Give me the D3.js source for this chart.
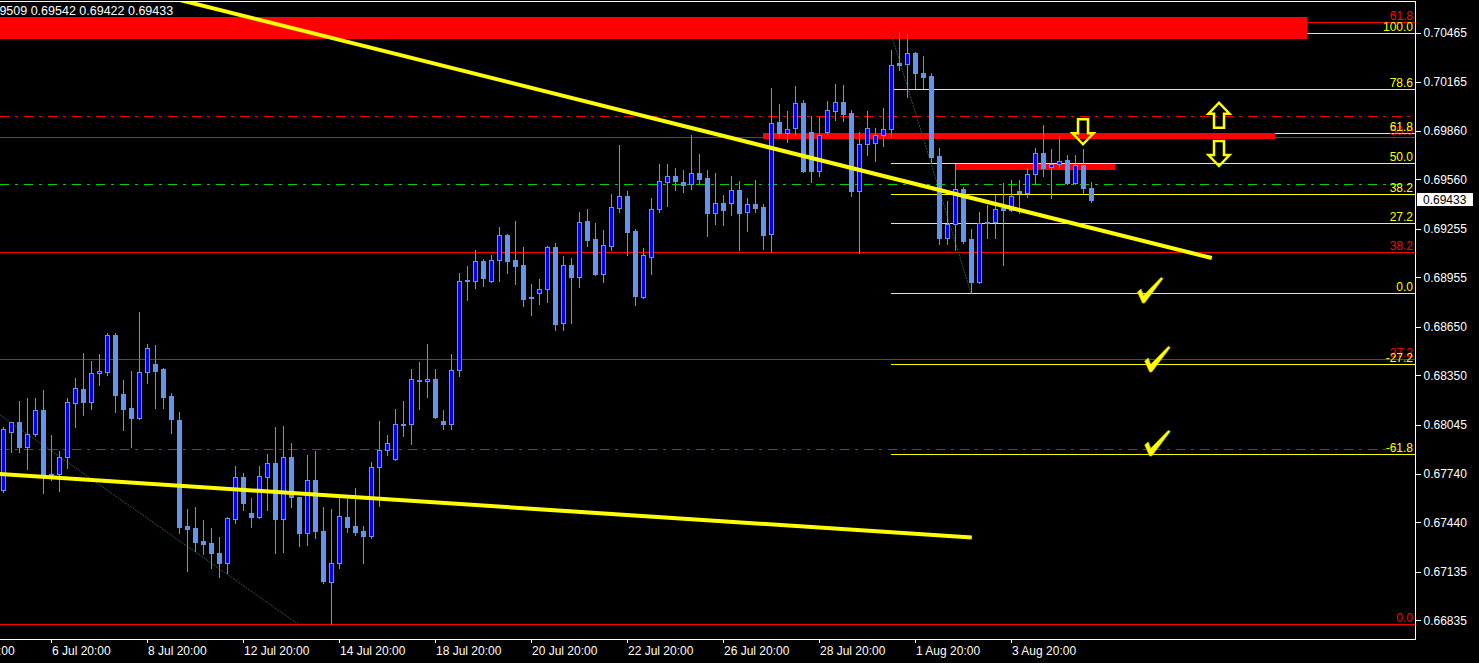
<!DOCTYPE html>
<html><head><meta charset="utf-8">
<script src="https://cdn.jsdelivr.net/npm/d3@7/dist/d3.min.js"></script>
<style>
html,body{margin:0;padding:0;background:#000;overflow:hidden}
svg{display:block}
text{font-family:"Liberation Sans",Arial,sans-serif}
</style></head><body>
<svg id="chart" width="1479" height="663"></svg>
<script>
// ---- OHLC data (H4 bars, index 0 = 6 Jul 00:00) ----
const opens = [0.67640,0.67997,0.68061,0.67908,0.67985,0.68135,0.67739,0.67741,0.67842,0.68180,
0.68265,0.68186,0.68362,0.68372,0.68598,0.68234,0.68149,0.68087,0.68368,0.68419,
0.68388,0.68221,0.68073,0.67418,0.67405,0.67325,0.67313,0.67251,0.67187,0.67459,
0.67719,0.67496,0.67475,0.67723,0.67807,0.67459,0.67844,0.67599,0.67373,0.67702,
0.67387,0.67074,0.67187,0.67473,0.67418,0.67387,0.67358,0.67781,0.67886,0.67830,
0.68046,0.68046,0.68320,0.68312,0.68325,0.68067,0.68046,0.68380,0.68938,0.68934,
0.69056,0.68934,0.69060,0.69215,0.69062,0.69031,0.68831,0.68856,0.68881,0.69140,
0.68674,0.69029,0.68959,0.69303,0.69192,0.68977,0.69150,0.69385,0.69456,0.69241,
0.68835,0.69082,0.69375,0.69546,0.69579,0.69544,0.69530,0.69598,0.69569,0.69354,
0.69416,0.69412,0.69493,0.69357,0.69408,0.69390,0.69221,0.69915,0.69845,0.69876,
0.70031,0.69851,0.69614,0.69855,0.69985,0.70037,0.69971,0.69490,0.69777,0.69783,
0.69833,0.69870,0.70278,0.70272,0.70340,0.70216,0.70199,0.69705,0.69200,0.69283,
0.69499,0.69192,0.68928,0.69295,0.69297,0.69382,0.69371,0.69488,0.69478,0.69592,
0.69722,0.69635,0.69655,0.69680,0.69540,0.69647,0.69509];
const highs = [0.68032,0.68063,0.68190,0.68209,0.68209,0.68258,0.67980,0.67881,0.68209,0.68333,
0.68487,0.68438,0.68481,0.68609,0.68609,0.68320,0.68376,0.68739,0.68543,0.68537,
0.68393,0.68238,0.68122,0.67523,0.67535,0.67455,0.67405,0.67350,0.67473,0.67789,
0.67747,0.67591,0.67791,0.67863,0.68032,0.68036,0.67929,0.67599,0.67857,0.67881,
0.67535,0.67523,0.67599,0.67585,0.67655,0.67420,0.67812,0.68067,0.67980,0.68141,
0.68190,0.68388,0.68432,0.68543,0.68388,0.68135,0.68481,0.68980,0.69025,0.69124,
0.69066,0.69093,0.69266,0.69223,0.69303,0.69142,0.68914,0.68945,0.69149,0.69167,
0.69087,0.69074,0.69359,0.69377,0.69291,0.69247,0.69470,0.69773,0.69488,0.69254,
0.69136,0.69443,0.69655,0.69655,0.69631,0.69618,0.69835,0.69717,0.69618,0.69600,
0.69462,0.69579,0.69550,0.69445,0.69556,0.69408,0.70125,0.70026,0.69981,0.70137,
0.70051,0.69952,0.69948,0.70045,0.70150,0.70144,0.69989,0.69855,0.69983,0.69880,
0.70000,0.70360,0.70469,0.70459,0.70348,0.70323,0.70216,0.69754,0.69427,0.69655,
0.69515,0.69254,0.69359,0.69402,0.69462,0.69536,0.69556,0.69556,0.69631,0.69754,
0.69895,0.69748,0.69828,0.69711,0.69711,0.69748,0.69542];
const lows = [0.67628,0.67877,0.67877,0.67772,0.67974,0.67620,0.67700,0.67634,0.67778,0.68032,
0.68104,0.68141,0.68289,0.68351,0.68124,0.68011,0.67908,0.68079,0.68304,0.68149,
0.68149,0.67991,0.67373,0.67142,0.67265,0.67245,0.67156,0.67104,0.67129,0.67435,
0.67517,0.67414,0.67467,0.67517,0.67253,0.67259,0.67537,0.67294,0.67300,0.67346,
0.67067,0.66812,0.67156,0.67383,0.67364,0.67187,0.67346,0.67543,0.67859,0.67826,
0.67976,0.67927,0.68141,0.68213,0.68085,0.68017,0.68017,0.68347,0.68815,0.68891,
0.68901,0.68928,0.68932,0.68980,0.68914,0.68780,0.68722,0.68792,0.68804,0.68629,
0.68629,0.68674,0.68897,0.69149,0.68969,0.68926,0.69124,0.69359,0.69093,0.68786,
0.68829,0.68977,0.69357,0.69396,0.69495,0.69484,0.69501,0.69540,0.69212,0.69286,
0.69280,0.69342,0.69126,0.69243,0.69361,0.69132,0.69113,0.69820,0.69793,0.69835,
0.69606,0.69546,0.69583,0.69839,0.69927,0.69923,0.69458,0.69103,0.69711,0.69676,
0.69767,0.69824,0.70236,0.70071,0.70123,0.70123,0.69670,0.69159,0.69159,0.69124,
0.69169,0.68860,0.68922,0.69200,0.69200,0.69031,0.69365,0.69354,0.69453,0.69532,
0.69581,0.69447,0.69629,0.69532,0.69532,0.69478,0.69422];
const closes = [0.68016,0.68059,0.67908,0.67985,0.68135,0.67733,0.67729,0.67844,0.68184,0.68269,
0.68186,0.68362,0.68376,0.68598,0.68228,0.68141,0.68087,0.68368,0.68516,0.68378,
0.68217,0.68077,0.67414,0.67401,0.67321,0.67308,0.67249,0.67187,0.67465,0.67719,
0.67558,0.67475,0.67727,0.67807,0.67461,0.67844,0.67599,0.67376,0.67702,0.67389,
0.67078,0.67187,0.67480,0.67414,0.67383,0.67358,0.67781,0.67886,0.67929,0.68046,
0.68043,0.68325,0.68312,0.68325,0.68090,0.68046,0.68380,0.68932,0.68934,0.69056,
0.68953,0.69062,0.69215,0.69058,0.69027,0.68823,0.68827,0.68881,0.69140,0.68668,
0.69029,0.68959,0.69295,0.69187,0.68975,0.69153,0.69388,0.69456,0.69237,0.68841,
0.69091,0.69375,0.69548,0.69579,0.69552,0.69527,0.69598,0.69563,0.69354,0.69412,
0.69371,0.69493,0.69354,0.69406,0.69385,0.69218,0.69911,0.69845,0.69870,0.70031,
0.69614,0.69614,0.69833,0.69987,0.70037,0.69966,0.69490,0.69777,0.69876,0.69833,
0.69870,0.70265,0.70265,0.70340,0.70220,0.70195,0.69700,0.69200,0.69283,0.69499,
0.69179,0.68928,0.69289,0.69291,0.69375,0.69371,0.69456,0.69474,0.69594,0.69722,
0.69632,0.69655,0.69676,0.69538,0.69647,0.69509,0.69433];

// ---- axes ----
const timeTickIndex = [-6,6,18,30,42,54,66,78,90,102,114,126];
const timeTickLabels = ["4 Jul 20:00","6 Jul 20:00","8 Jul 20:00","12 Jul 20:00","14 Jul 20:00","18 Jul 20:00",
  "20 Jul 20:00","22 Jul 20:00","26 Jul 20:00","28 Jul 20:00","1 Aug 20:00","3 Aug 20:00"];
const priceTicks = [0.70465,0.70165,0.69860,0.69560,0.69255,0.68955,0.68650,0.68350,0.68045,0.67740,0.67440,0.67135,0.66835];
const headerText = "0.69509 0.69542 0.69422 0.69433";
const lastPrice = 0.69433;

// ---- objects ----
const yellowFibLow = 0.68856, yellowFibHigh = 0.70463, yellowFibStart = 111;
const yellowFibLevels = [100, 78.6, 61.8, 50, 38.2, 27.2, 0, -27.2, -61.8];
const redFibLow = 0.66811, redFibHigh = 0.72829;
const redFibLevels = [61.8, 50, 38.2, 27.2, 0];
const dashLinePrices = [0.69952, 0.67892];
const dashLineColors = ["#ff0000", "#ff0000"];
const greenDashPrice = 0.69530;
const zoneStart = [-1, 95, 119.1];
const zoneEnd = [163, 159, 139];
const zoneTop = [0.70564, 0.69850, 0.69658];
const zoneBottom = [0.70428, 0.69810, 0.69618];
const trendStartIdx = [20, -1];
const trendStartPrice = [0.70695, 0.67741];
const trendEndIdx = [151.1, 121.1];
const trendEndPrice = [0.69074, 0.67347];
const dotStartIdx = [-1, 111];
const dotStartPrice = [0.68126, 0.70463];
const dotEndIdx = [36.875, 121];
const dotEndPrice = [0.66812, 0.68856];
const arrowIdx = [135, 152, 152];
const arrowPrice = [0.69777, 0.70034, 0.69643];
const arrowDir = ["down", "up", "down"];
const checkIdx = [142.5, 143.4, 143.4];
const checkPrice = [0.68802, 0.68376, 0.67857];

const PR = 1415, PB = 639, PT = 1.5;
const svg = d3.select('#chart');
svg.append('rect').attr('width',1479).attr('height',663).attr('fill','#000');

const x = d3.scaleLinear().domain([0,136]).range([3,1091]);
const y = d3.scaleLinear().domain([0.66835,0.70465]).range([620.3,33]);

svg.append('defs').append('clipPath').attr('id','plot')
  .append('rect').attr('x',0).attr('y',2).attr('width',PR).attr('height',PB-2);
const plot = svg.append('g').attr('clip-path','url(#plot)');

const back = plot.append('g').attr('shape-rendering','crispEdges');
const ry = p => Math.round(y(p)) + 0.5;

// red fib (full width)
redFibLevels.forEach(l => {
  const p = redFibLow + (redFibHigh - redFibLow) * l / 100;
  back.append('line').attr('x1',0).attr('x2',PR).attr('y1',ry(p)).attr('y2',ry(p))
    .attr('stroke','#ff0000').attr('stroke-width',1);
});
// dash-dot lines
dashLinePrices.forEach((p,k) => {
  back.append('line').attr('x1',0).attr('x2',PR).attr('y1',ry(p)).attr('y2',ry(p))
    .attr('stroke',dashLineColors[k]).attr('stroke-dasharray','9,6,3,6');
});
back.append('line').attr('x1',0).attr('x2',PR).attr('y1',ry(greenDashPrice)).attr('y2',ry(greenDashPrice))
  .attr('stroke','#00d000').attr('stroke-dasharray','9,6,3,6');
// yellow fib
yellowFibLevels.forEach(l => {
  const p = yellowFibLow + (yellowFibHigh - yellowFibLow) * l / 100;
  back.append('line').attr('x1',x(yellowFibStart)).attr('x2',PR).attr('y1',ry(p)).attr('y2',ry(p))
    .attr('stroke','#ffff00').attr('stroke-width',1);
});
// zones
zoneStart.forEach((s,k) => {
  const y0 = Math.round(y(zoneTop[k])), y1 = Math.round(y(zoneBottom[k]));
  back.append('rect').attr('x',x(s)).attr('width',x(zoneEnd[k])-x(s))
    .attr('y',y0).attr('height',y1-y0).attr('fill','#ff0000');
});
// dotted diagonals
dotStartIdx.forEach((s,k) => {
  plot.append('line').attr('x1',x(s)).attr('y1',y(dotStartPrice[k]))
    .attr('x2',x(dotEndIdx[k])).attr('y2',y(dotEndPrice[k]))
    .attr('stroke','#2f5252').attr('stroke-width',1).attr('stroke-dasharray','2,1');
});

// candles
const data = opens.map((o,i)=>({i,o,h:highs[i],l:lows[i],c:closes[i]}));
const cg = plot.append('g').attr('shape-rendering','crispEdges');
const cand = cg.selectAll('g').data(data).join('g');
cand.append('line')
  .attr('x1',d=>Math.round(x(d.i))+0.5).attr('x2',d=>Math.round(x(d.i))+0.5)
  .attr('y1',d=>Math.round(y(d.h))).attr('y2',d=>Math.round(y(d.l))+1)
  .attr('stroke','#6495ed').attr('stroke-width',1);
cand.each(function(d){
  const g = d3.select(this);
  const cx = Math.round(x(d.i));
  const yt = Math.round(y(Math.max(d.o,d.c)));
  const yb = Math.round(y(Math.min(d.o,d.c)));
  const h = Math.max(1, yb - yt + 1);
  g.append('rect').attr('x',cx-2).attr('width',5).attr('y',yt).attr('height',h).attr('fill','#6495ed');
  if (d.c > d.o && h > 2) {
    g.append('rect').attr('x',cx-1).attr('width',3).attr('y',yt+1).attr('height',h-2).attr('fill','#0000ff');
  }
});

// thick yellow trendlines
trendStartIdx.forEach((s,k) => {
  plot.append('line').attr('x1',x(s)).attr('y1',y(trendStartPrice[k]))
    .attr('x2',x(trendEndIdx[k])).attr('y2',y(trendEndPrice[k]))
    .attr('stroke','#ffff00').attr('stroke-width',4);
});

// arrows
const downPath = "M-5,-25 L5,-25 L5,-11 L10.5,-11 L0,0 L-10.5,-11 L-5,-11 Z";
const upPath = "M-5,25 L5,25 L5,11 L10.5,11 L0,0 L-10.5,11 L-5,11 Z";
arrowIdx.forEach((a,k) => {
  plot.append('path').attr('d', arrowDir[k]==='down'?downPath:upPath)
    .attr('transform',`translate(${x(a)},${y(arrowPrice[k])})`)
    .attr('fill','none').attr('stroke','#ffff00').attr('stroke-width',2.5).attr('stroke-linejoin','miter');
});
// check marks
const checkPath = "M-5.5,-10 L-2,-13 L0.5,-6.5 L18,-24.5 L20,-23.5 L1.5,1 L-0.5,1 Z";
checkIdx.forEach((c,k) => {
  plot.append('path').attr('d',checkPath)
    .attr('transform',`translate(${x(c)},${y(checkPrice[k])})`)
    .attr('fill','#ffff00').attr('stroke','#c8c800').attr('stroke-width',0.8);
});

// fib labels
const labG = svg.append('g').attr('font-size','12px').attr('text-anchor','end');
redFibLevels.forEach(l => {
  const p = redFibLow + (redFibHigh - redFibLow) * l / 100;
  labG.append('text').attr('x',1413).attr('y',Math.round(y(p))-2).attr('fill','#ff0000').text(l.toFixed(1));
});
yellowFibLevels.forEach(l => {
  const p = yellowFibLow + (yellowFibHigh - yellowFibLow) * l / 100;
  labG.append('text').attr('x',1413).attr('y',Math.round(y(p))-2).attr('fill','#ffff00').text(l.toFixed(1));
});

// frame
svg.append('path').attr('d',`M-1,${PT} H${PR+0.5} V${PB+0.5} H-1`)
  .attr('fill','none').attr('stroke','#fff').attr('stroke-width',1).attr('shape-rendering','crispEdges');

// price axis
const yAxis = d3.axisRight(y).tickValues(priceTicks).tickSize(5).tickPadding(3)
  .tickFormat(d=>d.toFixed(5));
const ya = svg.append('g').attr('transform',`translate(${PR+0.5},0)`).call(yAxis);
ya.select('.domain').remove();
ya.selectAll('line').attr('stroke','#fff').attr('shape-rendering','crispEdges');
ya.selectAll('text').attr('fill','#fff').attr('font-size','12px').attr('font-family','Liberation Sans, Arial, sans-serif');

// time axis
const tg = svg.append('g');
timeTickIndex.forEach((t,k) => {
  const tx = Math.round(x(t)) + 0.5;
  tg.append('line').attr('x1',tx).attr('x2',tx).attr('y1',PB).attr('y2',PB+4)
    .attr('stroke','#fff').attr('shape-rendering','crispEdges');
  tg.append('text').attr('x',tx+0.5).attr('y',655).attr('fill','#fff').attr('font-size','12px')
    .text(timeTickLabels[k]);
});

// current price box
const cy = Math.round(y(lastPrice));
svg.append('rect').attr('x',1417).attr('y',cy-7).attr('width',56).attr('height',13).attr('fill','#fff');
svg.append('text').attr('x',1423).attr('y',cy+4).attr('fill','#000').attr('font-size','12px').text(lastPrice.toFixed(5));

// header (left part scrolled out of view, as in the reference)
svg.append('text').attr('x',-18).attr('y',15).attr('fill','#fff').attr('font-size','12.5px').text(headerText);
</script>
</body></html>
